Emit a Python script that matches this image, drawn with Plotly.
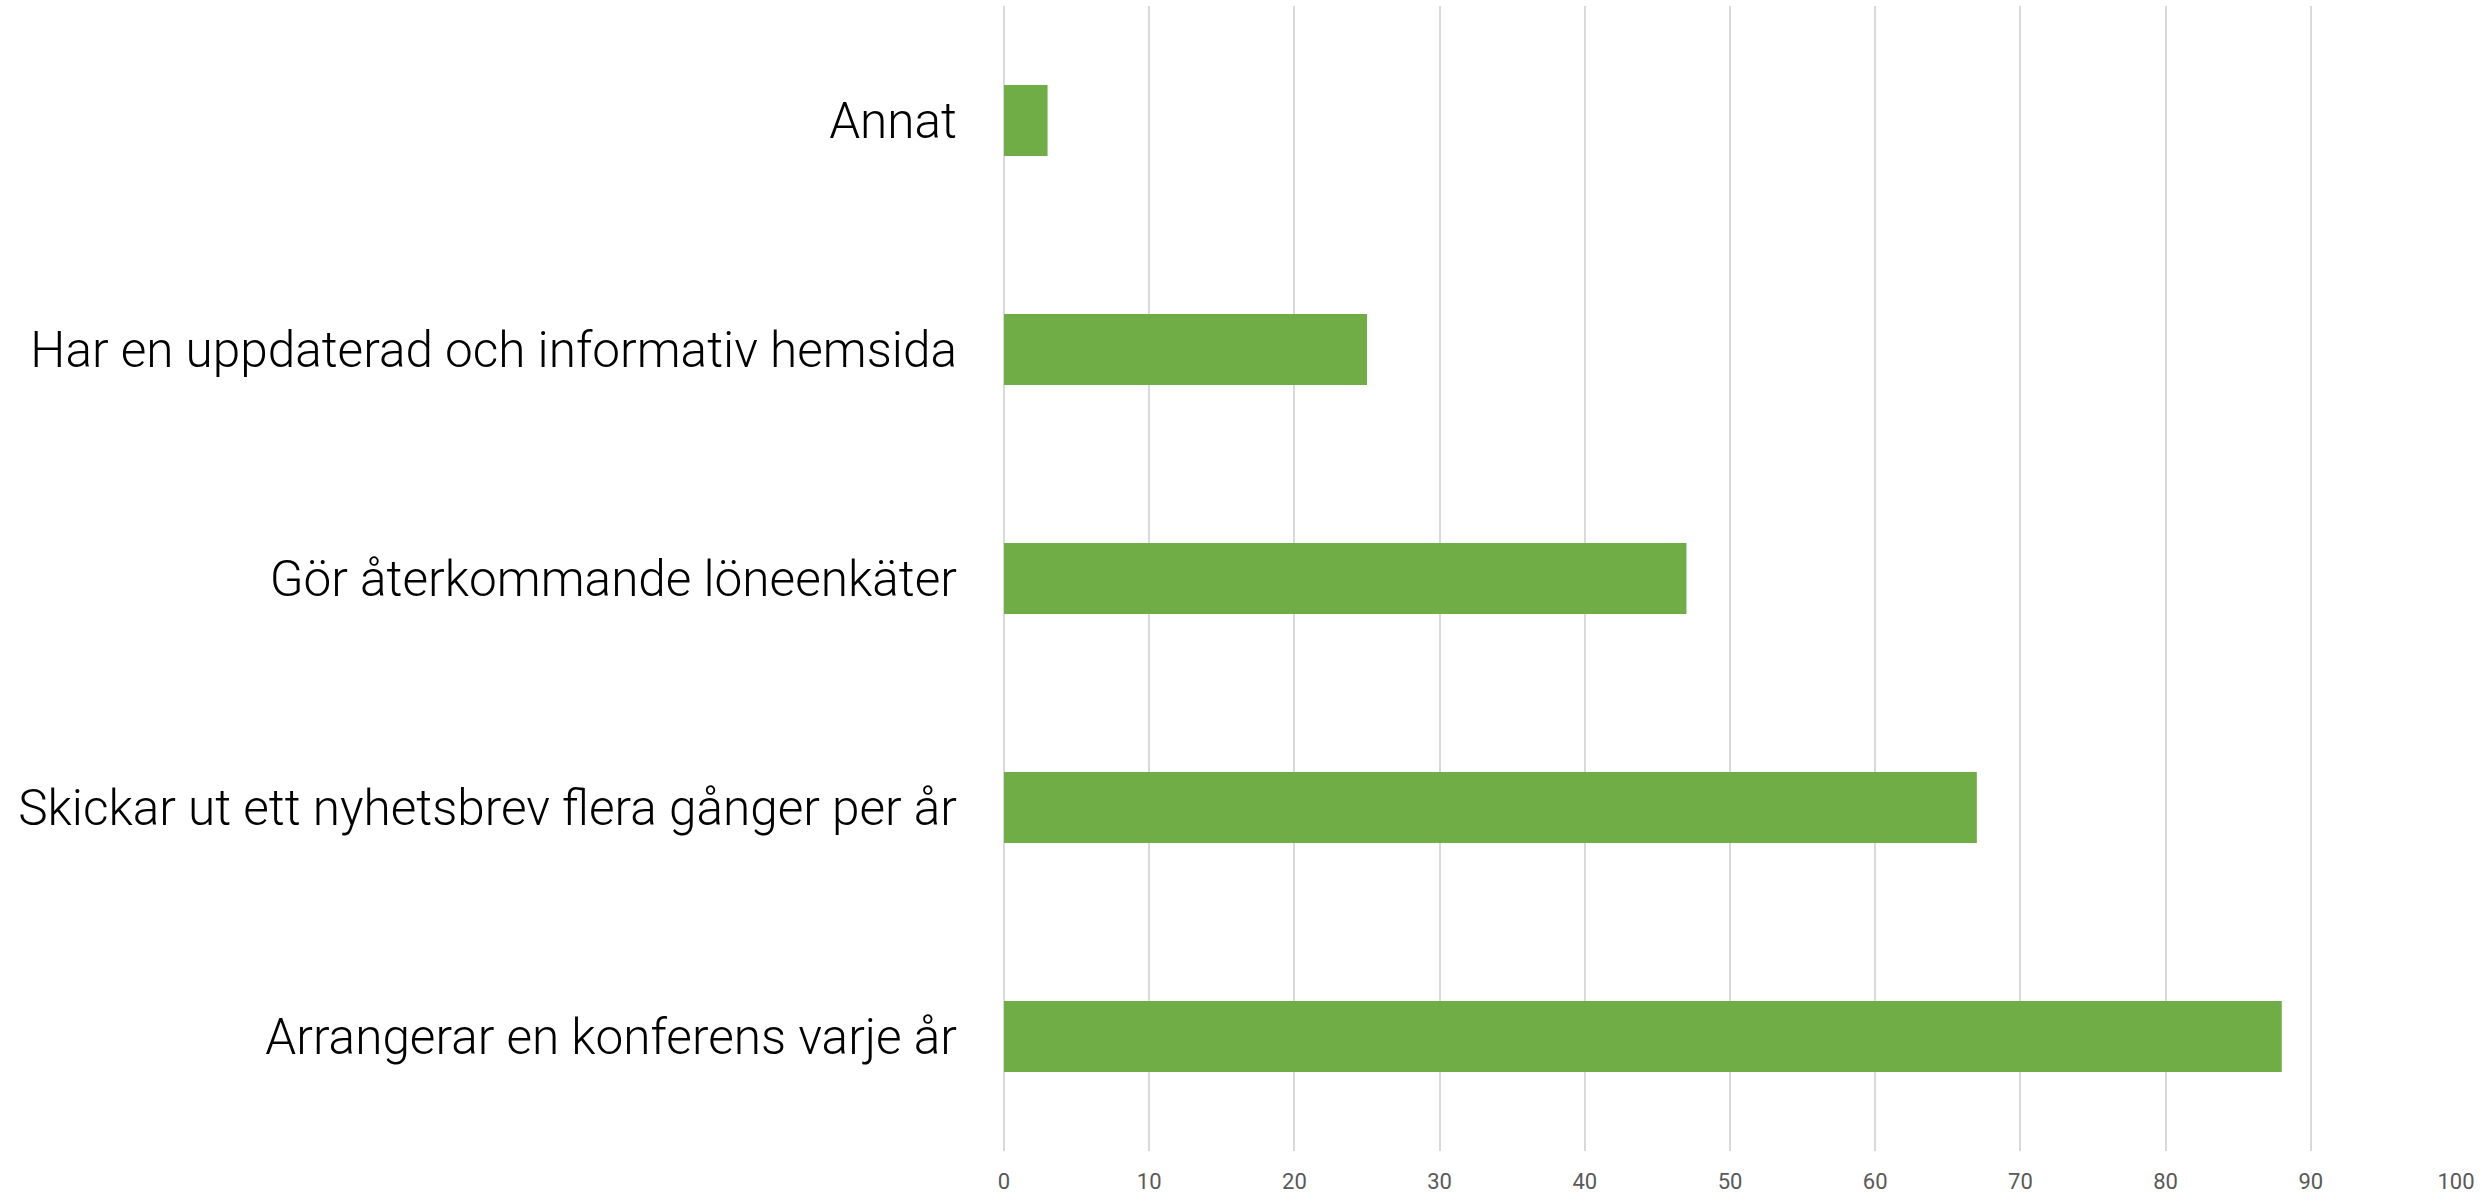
import plotly.graph_objects as go

categories = [
    "Arrangerar en konferens varje år",
    "Skickar ut ett nyhetsbrev flera gånger per år",
    "Gör återkommande löneenkäter",
    "Har en uppdaterad och informativ hemsida",
    "Annat",
]
values = [88, 67, 47, 25, 3]
x_ticks = [0, 10, 20, 30, 40, 50, 60, 70, 80, 90, 100]

fig = go.Figure(
    go.Bar(
        x=values,
        y=categories,
        orientation="h",
        marker=dict(color="#70ad47", line=dict(width=0)),
        hoverinfo="x+y",
    )
)

fig.update_layout(
    width=2486,
    height=1195,
    margin=dict(l=1004, r=30, t=6, b=44, autoexpand=False),
    paper_bgcolor="white",
    plot_bgcolor="white",
    bargap=0.69,
    showlegend=False,
    font=dict(family="Roboto, Liberation Sans, sans-serif"),
)

fig.update_xaxes(
    range=[0, 100],
    tickvals=x_ticks,
    ticktext=[str(v) for v in x_ticks],
    showgrid=True,
    gridcolor="#d9d9d9",
    gridwidth=2,
    zeroline=True,
    zerolinecolor="#d9d9d9",
    zerolinewidth=2,
    showline=False,
    automargin=False,
    tickfont=dict(size=22, color="#595959"),
    ticklabelstandoff=15,
)

fig.update_yaxes(
    showgrid=False,
    zeroline=False,
    showline=False,
    automargin=False,
    tickfont=dict(size=49.5, color="#000000", weight=300),
    ticklabelstandoff=46,
)

fig.write_html(
    "out.html",
    config={"displayModeBar": False},
    post_script="document.body.style.margin='0';document.body.style.overflow='hidden';",
)
